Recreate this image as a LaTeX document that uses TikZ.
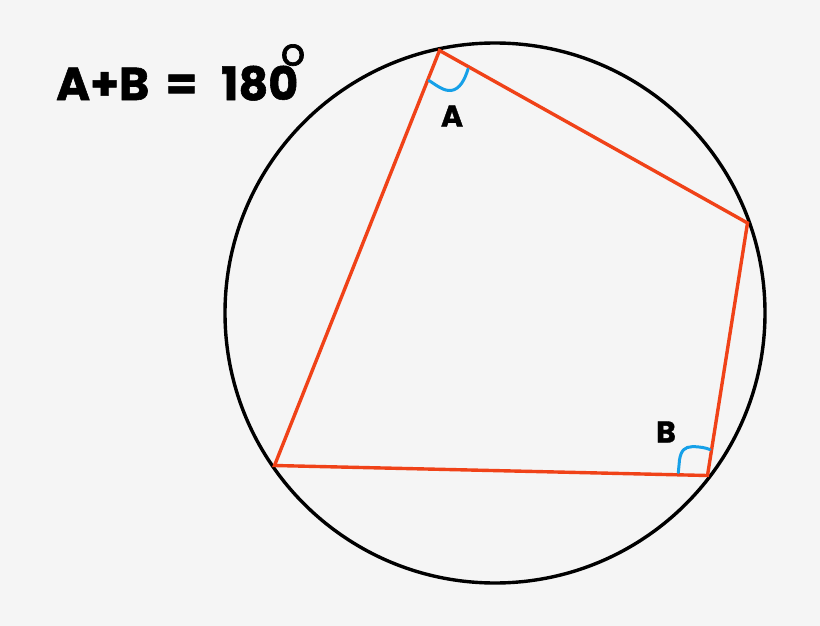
\documentclass[tikz,border=0pt]{standalone}
\usepackage{fontspec}
\setmainfont{Poppins}[BoldFeatures={FakeBold=1.2}]
\definecolor{bgc}{RGB}{245,245,245}
\definecolor{quadc}{RGB}{240,66,24}
\definecolor{arcc}{RGB}{22,160,232}
\begin{document}
\begin{tikzpicture}[x=1pt,y=-1pt,
  rim/.style={draw=black,line width=3.4pt},
  side/.style={draw=quadc,line width=3.4pt,line join=miter},
  anglemark/.style={draw=arcc,line width=3pt,line cap=round},
  big/.style={inner sep=0pt,font=\fontsize{46}{50}\selectfont\bfseries},
  lab/.style={inner sep=0pt,font=\fontsize{30}{34}\selectfont\bfseries}]
\fill[bgc] (0,0) rectangle (820,626);
\useasboundingbox (0,0) rectangle (820,626);
\coordinate (O) at (495,313);
\draw[rim] (O) circle (270);
\coordinate (A) at (439.5,50.5);
\coordinate (R) at (747.5,223);
\coordinate (B) at (707.5,475.5);
\coordinate (L) at (274.5,465.5);
\draw[side] (A) -- (R) -- (B) -- (L) -- cycle;
% angle marks
\draw[anglemark] (429,80.5) .. controls (440,88) and (445,91) .. (451,90.5) .. controls (460,89.5) and (465,79) .. (468,69);
\draw[anglemark] (678.3,472.7) -- (679.5,460) .. controls (681,450) and (685,447) .. (692,446.7) .. controls (700,446.5) and (706,448) .. (710,449.5);
% labels
\node[lab] (la) at (452,116) {A};
\node[lab] (lb) at (666,432) {B};
\node[big,anchor=base west] (t1) at (56,100) {A+B};
\node[big,anchor=base] (t2) at (181.5,100) {=};
\node[big,anchor=base west] (t3) at (221,100) {180};
\node[inner sep=0pt,anchor=base,font=\fontsize{38}{40}\selectfont\addfontfeature{FakeBold=1.8}] (deg) at (293,65.5) {o};
\end{tikzpicture}
\end{document}
